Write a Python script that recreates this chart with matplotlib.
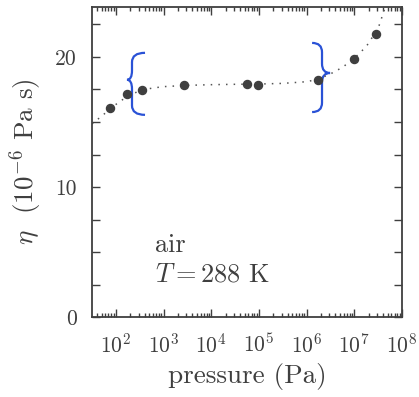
import numpy as np
import matplotlib
matplotlib.use("Agg")
import matplotlib.pyplot as plt
from matplotlib.path import Path
from matplotlib.patches import PathPatch
from matplotlib.ticker import MultipleLocator, FuncFormatter, LogLocator

plt.rcParams['font.family'] = ['cmr10', 'DejaVu Serif']
plt.rcParams['mathtext.fontset'] = 'cm'
plt.rcParams['axes.unicode_minus'] = False
plt.rcParams['axes.formatter.use_mathtext'] = True

# measured points: pressure (Pa), viscosity (1e-6 Pa s)
pressure = [75, 169, 347, 2720, 57000, 97000, 1750000, 9800000, 28000000]
eta = [16.05, 17.15, 17.46, 17.87, 17.95, 17.87, 18.2, 19.85, 21.8]

# dotted guide curve
curve_logp = [1.5, 1.75, 2.0, 2.25, 2.5, 2.75, 3.0, 3.5, 4.0, 4.5, 5.0, 5.5,
              6.0, 6.25, 6.5, 6.75, 7.0, 7.25, 7.5, 7.65]
curve_eta = [14.85, 15.6, 16.35, 17.0, 17.4, 17.6, 17.72, 17.82, 17.87, 17.9,
             17.92, 17.97, 18.1, 18.3, 18.7, 19.2, 19.9, 20.8, 22.2, 23.85]

ink = '#3f3f3f'
blue = '#2a52d6'

fig = plt.figure(figsize=(4.19, 3.97), dpi=100)
ax = fig.add_axes([0.2196, 0.2015, 0.7398, 0.781])

ax.plot(10 ** np.array(curve_logp), curve_eta, linestyle=(0, (1, 4)),
        color='#555555', linewidth=1.1)
ax.plot(pressure, eta, 'o', color=ink, markersize=5.8)

ax.set_xscale('log')
ax.set_xlim(10 ** 1.5, 1e8)
ax.set_ylim(0, 23.85)

ax.xaxis.set_major_locator(LogLocator(base=10, numticks=20))
ax.xaxis.set_minor_locator(LogLocator(base=10, subs=np.arange(2, 10), numticks=20))
ax.yaxis.set_major_locator(MultipleLocator(2.5))
ax.yaxis.set_major_formatter(FuncFormatter(
    lambda v, p: f'{int(v)}' if abs(v % 10) < 1e-6 else ''))

ax.tick_params(which='both', direction='in', top=True, right=True,
               colors=ink, labelsize=15.5, width=1.0)
ax.tick_params(which='major', length=6)
ax.tick_params(which='minor', length=3)
ax.tick_params(axis='x', which='major', pad=11)
ax.tick_params(axis='y', which='major', pad=11)
for s in ax.spines.values():
    s.set_color(ink)
    s.set_linewidth(1.3)

ax.set_xlabel('pressure (Pa)', fontsize=19.5, color=ink, labelpad=5)
ax.set_ylabel(r'$\eta$  $(10^{-6}$ Pa s$)$', fontsize=19.5, color=ink, labelpad=8)

ax.text(0.203, 0.21, 'air', transform=ax.transAxes, fontsize=19, color=ink)
ax.text(0.203, 0.113, r'$T = 288$ K', transform=ax.transAxes, fontsize=19, color=ink)


def brace(ax, tip, spine, cusp, top, mid, bottom):
    d = 0.03
    verts = [(tip, top), (spine, top), (spine, top - d),
             (spine, mid + d), (spine, mid), (cusp, mid),
             (spine, mid), (spine, mid - d),
             (spine, bottom + d), (spine, bottom), (tip, bottom)]
    codes = [Path.MOVETO, Path.CURVE3, Path.CURVE3,
             Path.LINETO, Path.CURVE3, Path.CURVE3,
             Path.CURVE3, Path.CURVE3,
             Path.LINETO, Path.CURVE3, Path.CURVE3]
    ax.add_patch(PathPatch(Path(verts, codes), fill=False, edgecolor=blue,
                           linewidth=1.6, transform=ax.transAxes, clip_on=False))


brace(ax, 0.171, 0.129, 0.113, 0.852, 0.765, 0.652)
brace(ax, 0.71, 0.742, 0.768, 0.884, 0.787, 0.661)

fig.savefig('out.png', dpi=100)
